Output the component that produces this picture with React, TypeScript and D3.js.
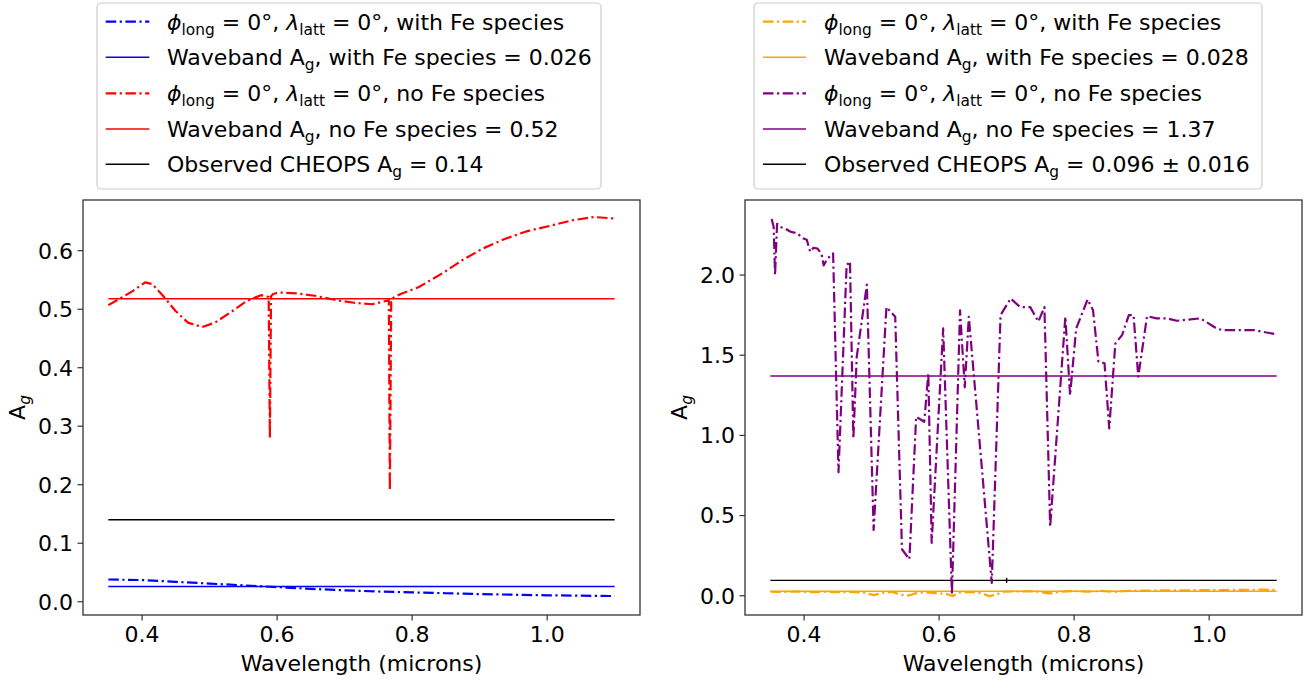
import React from "react";
import * as d3 from "d3";

// ---------- data ----------
const xTicks = [0.4, 0.6, 0.8, 1.0];
const leftYTicks = [0, 0.1, 0.2, 0.3, 0.4, 0.5, 0.6];
const rightYTicks = [0, 0.5, 1.0, 1.5, 2.0];
const bandStart = 0.35;
const bandEnd = 1.1;

// Left panel
const leftNoFeX = [0.35, 0.37, 0.386, 0.4046, 0.415, 0.431, 0.4496, 0.468, 0.489, 0.508, 0.534, 0.555, 0.576, 0.5875, 0.5893, 0.591, 0.594, 0.603, 0.63, 0.656, 0.688, 0.714, 0.741, 0.757, 0.7655, 0.767, 0.769, 0.7727, 0.783, 0.81, 0.847, 0.873, 0.905, 0.937, 0.969, 1.006, 1.037, 1.069, 1.1];
const leftNoFeY = [0.507, 0.52, 0.531, 0.546, 0.543, 0.523, 0.497, 0.477, 0.4696, 0.477, 0.497, 0.514, 0.524, 0.521, 0.28, 0.522, 0.526, 0.5286, 0.527, 0.523, 0.5154, 0.511, 0.5085, 0.513, 0.515, 0.19, 0.516, 0.52, 0.526, 0.538, 0.563, 0.583, 0.604, 0.62, 0.633, 0.643, 0.652, 0.6576, 0.655];
const leftWithFeX = [0.35, 0.4, 0.45, 0.5, 0.55, 0.6, 0.65, 0.7, 0.75, 0.8, 0.85, 0.9, 0.95, 1.0, 1.05, 1.1];
const leftWithFeY = [0.038, 0.037, 0.034, 0.031, 0.028, 0.025, 0.022, 0.0195, 0.0175, 0.016, 0.0145, 0.013, 0.012, 0.011, 0.0103, 0.0097];
const leftBandWithFe = 0.026;
const leftBandNoFe = 0.518;
const leftObserved = 0.14;

// Right panel
const rightNoFeX = [0.352, 0.355, 0.357, 0.36, 0.365, 0.372, 0.38, 0.39, 0.398, 0.404, 0.409, 0.414, 0.42, 0.426, 0.429, 0.434, 0.439, 0.443, 0.451, 0.463, 0.468, 0.473, 0.478, 0.485, 0.493, 0.503, 0.522, 0.535, 0.545, 0.556, 0.566, 0.578, 0.584, 0.589, 0.606, 0.619, 0.631, 0.638, 0.644, 0.678, 0.691, 0.706, 0.72, 0.735, 0.747, 0.756, 0.7645, 0.787, 0.794, 0.803, 0.82, 0.828, 0.836, 0.845, 0.852, 0.861, 0.871, 0.881, 0.888, 0.895, 0.908, 0.922, 0.937, 0.952, 0.987, 1.011, 1.019, 1.066, 1.1];
const rightNoFeY = [2.35, 2.3, 2.0, 2.32, 2.3, 2.29, 2.27, 2.26, 2.23, 2.22, 2.145, 2.17, 2.165, 2.13, 2.06, 2.1, 2.12, 2.135, 0.77, 2.06, 2.085, 0.98, 1.49, 1.7, 1.94, 0.41, 1.8, 1.74, 0.29, 0.227, 1.116, 1.085, 1.386, 0.33, 1.667, 0.01, 1.78, 1.3, 1.74, 0.08, 1.75, 1.854, 1.8, 1.8, 1.71, 1.8, 0.43, 1.74, 1.25, 1.667, 1.848, 1.78, 1.46, 1.45, 1.043, 1.573, 1.625, 1.75, 1.75, 1.366, 1.744, 1.73, 1.73, 1.715, 1.73, 1.667, 1.657, 1.657, 1.63];
const rightWithFeX = [0.35, 0.37, 0.39, 0.41, 0.43, 0.45, 0.47, 0.49, 0.503, 0.515, 0.53, 0.545, 0.555, 0.565, 0.58, 0.595, 0.61, 0.62, 0.63, 0.645, 0.66, 0.675, 0.685, 0.695, 0.72, 0.74, 0.765, 0.78, 0.8, 0.82, 0.84, 0.86, 0.88, 0.9, 0.93, 0.96, 0.99, 1.02, 1.05, 1.08, 1.1];
const rightWithFeY = [0.025, 0.024, 0.026, 0.023, 0.025, 0.022, 0.024, 0.018, 0.004, 0.018, 0.024, 0.005, 0.002, 0.015, 0.022, 0.017, 0.012, -0.002, 0.02, 0.024, 0.018, -0.002, 0.008, 0.025, 0.028, 0.027, 0.015, 0.025, 0.029, 0.026, 0.03, 0.024, 0.031, 0.032, 0.033, 0.034, 0.035, 0.036, 0.037, 0.038, 0.036];
const rightBandWithFe = 0.028;
const rightBandNoFe = 1.37;
const rightObserved = 0.096;
const rightObservedErr = 0.016;
const rightErrX = 0.7;

const leftLegend = [
  "φlong = 0°, λlatt = 0°, with Fe species",
  "Waveband A_g, with Fe species = 0.026",
  "φlong = 0°, λlatt = 0°, no Fe species",
  "Waveband A_g, no Fe species = 0.52",
  "Observed CHEOPS A_g = 0.14",
];
const rightLegend = [
  "φlong = 0°, λlatt = 0°, with Fe species",
  "Waveband A_g, with Fe species = 0.028",
  "φlong = 0°, λlatt = 0°, no Fe species",
  "Waveband A_g, no Fe species = 1.37",
  "Observed CHEOPS A_g = 0.096 ± 0.016",
];

// ---------- styling ----------
const FONT = "DejaVu Sans, sans-serif";
const FS = 22;
const SUBFS = 15.4;
const DASHDOT = "10.5,3.5,2.2,3.5";
const AXIS = "#333";

type Seg = { t: string; sub?: boolean; it?: boolean };

function parseLabel(s: string): Seg[] {
  if (s.startsWith("φlong")) {
    const rest = s.replace("φlong = 0°, λlatt = 0°", "");
    return [
      { t: "ϕ", it: true },
      { t: "long", sub: true },
      { t: " = 0°, " },
      { t: "λ", it: true },
      { t: "latt", sub: true },
      { t: " = 0°" + rest },
    ];
  }
  const i = s.indexOf("A_g");
  return [{ t: s.slice(0, i + 1) }, { t: "g", sub: true }, { t: s.slice(i + 3) }];
}

function RichText({ x, y, segs, fs = FS, anchor = "start", transform }: any) {
  const out: any[] = [];
  let down = false;
  segs.forEach((s: Seg, k: number) => {
    let dy = 0;
    if (s.sub && !down) { dy = 5; down = true; }
    else if (!s.sub && down) { dy = -5; down = false; }
    out.push(
      <tspan key={k} dy={dy} fontSize={s.sub ? SUBFS : fs} fontStyle={s.it ? "italic" : "normal"}>
        {s.t}
      </tspan>
    );
  });
  return (
    <text x={x} y={y} fontFamily={FONT} fontSize={fs} textAnchor={anchor} transform={transform} fill="#000">
      {out}
    </text>
  );
}

type Series = { xs: number[]; ys: number[]; color: string; dash?: boolean };

function Panel({ frame, yDomain, yTicks, series, hlines, errbar, legend, legendBox, legendColors }: any) {
  const { x0, x1, y0, y1 } = frame;
  const xs = d3.scaleLinear().domain([0.3125, 1.1375]).range([x0, x1]);
  const ys = d3.scaleLinear().domain(yDomain).range([y1, y0]);
  const line = d3.line<[number, number]>().x((d) => xs(d[0])).y((d) => ys(d[1]));
  const rowY = [21.7, 57.3, 93.3, 129, 164.3];
  return (
    <g>
      {hlines.map((h: any, i: number) => (
        <line key={"h" + i} x1={xs(bandStart)} x2={xs(bandEnd)} y1={ys(h.v)} y2={ys(h.v)} stroke={h.color} strokeWidth={1.4} />
      ))}
      {series.map((s: Series, i: number) => (
        <path key={"s" + i} d={line(s.xs.map((x, k) => [x, s.ys[k]] as [number, number])) || ""} fill="none" stroke={s.color} strokeWidth={2.2} strokeDasharray={s.dash ? DASHDOT : undefined} strokeLinejoin="round" />
      ))}
      {errbar && (
        <line x1={xs(errbar.x)} x2={xs(errbar.x)} y1={ys(errbar.v - errbar.e)} y2={ys(errbar.v + errbar.e)} stroke="#000" strokeWidth={1.4} />
      )}
      <rect x={x0} y={y0} width={x1 - x0} height={y1 - y0} fill="none" stroke={AXIS} strokeWidth={1.3} />
      {xTicks.map((t) => (
        <g key={"xt" + t}>
          <line x1={xs(t)} x2={xs(t)} y1={y1} y2={y1 + 5.5} stroke={AXIS} strokeWidth={1.2} />
          <text x={xs(t)} y={y1 + 27} textAnchor="middle" fontFamily={FONT} fontSize={FS} fill="#000">{t.toFixed(1)}</text>
        </g>
      ))}
      {yTicks.map((t: number) => (
        <g key={"yt" + t}>
          <line x1={x0 - 5.5} x2={x0} y1={ys(t)} y2={ys(t)} stroke={AXIS} strokeWidth={1.2} />
          <text x={x0 - 10} y={ys(t) + 7.9} textAnchor="end" fontFamily={FONT} fontSize={FS} fill="#000">{t.toFixed(1)}</text>
        </g>
      ))}
      <text x={(x0 + x1) / 2} y={y1 + 56} textAnchor="middle" fontFamily={FONT} fontSize={FS} fill="#000">Wavelength (microns)</text>
      <RichText x={0} y={0} segs={[{ t: "A" }, { t: "g", sub: true, it: true }]} anchor="middle" transform={`translate(${x0 - 58},${(y0 + y1) / 2}) rotate(-90)`} />
      <rect x={legendBox.x} y={3} width={legendBox.w} height={186} rx={4} fill="#fff" fillOpacity={0.8} stroke="#cccccc" strokeWidth={1.2} />
      {legend.map((lab: string, i: number) => (
        <g key={"lg" + i}>
          <line x1={legendBox.lx0} x2={legendBox.lx1} y1={rowY[i]} y2={rowY[i]} stroke={legendColors[i]} strokeWidth={i % 2 === 0 && i < 4 ? 2.2 : 1.4} strokeDasharray={i % 2 === 0 && i < 4 ? DASHDOT : undefined} />
          <RichText x={legendBox.tx} y={rowY[i] + 7.8} segs={parseLabel(lab)} />
        </g>
      ))}
    </g>
  );
}

export default function App() {
  return (
    <svg width={1310} height={680} style={{ position: "absolute", left: 0, top: 0, background: "#fff" }}>
      <rect width={1310} height={680} fill="#fff" />
      <Panel
        frame={{ x0: 83, x1: 640, y0: 200, y1: 615 }}
        yDomain={[-0.0227, 0.6867]}
        yTicks={leftYTicks}
        series={[
          { xs: leftWithFeX, ys: leftWithFeY, color: "#0000ff", dash: true },
          { xs: leftNoFeX, ys: leftNoFeY, color: "#ff0000", dash: true },
        ]}
        hlines={[
          { v: leftBandWithFe, color: "#0000ff" },
          { v: leftBandNoFe, color: "#ff0000" },
          { v: leftObserved, color: "#000000" },
        ]}
        legend={leftLegend}
        legendColors={["#0000ff", "#0000ff", "#ff0000", "#ff0000", "#000000"]}
        legendBox={{ x: 97, w: 504, lx0: 105.7, lx1: 149.3, tx: 167 }}
      />
      <Panel
        frame={{ x0: 745, x1: 1302, y0: 200, y1: 615 }}
        yDomain={[-0.12, 2.468]}
        yTicks={rightYTicks}
        series={[
          { xs: rightWithFeX, ys: rightWithFeY, color: "#ffa500", dash: true },
          { xs: rightNoFeX, ys: rightNoFeY, color: "#800080", dash: true },
        ]}
        hlines={[
          { v: rightBandWithFe, color: "#ffa500" },
          { v: rightBandNoFe, color: "#800080" },
          { v: rightObserved, color: "#000000" },
        ]}
        errbar={{ x: rightErrX, v: rightObserved, e: rightObservedErr }}
        legend={rightLegend}
        legendColors={["#ffa500", "#ffa500", "#800080", "#800080", "#000000"]}
        legendBox={{ x: 754, w: 508, lx0: 763, lx1: 806, tx: 824 }}
      />
    </svg>
  );
}
